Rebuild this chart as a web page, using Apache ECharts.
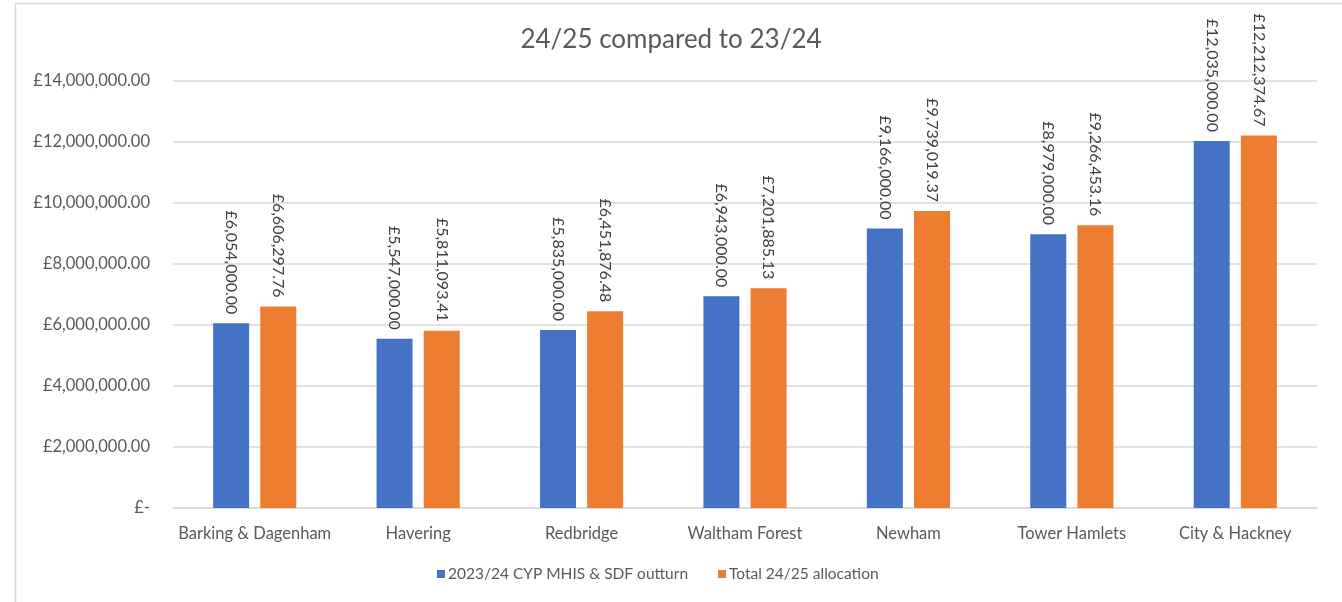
<!DOCTYPE html>
<html>
<head>
<meta charset="utf-8">
<style>
  html, body { margin: 0; padding: 0; background: #fff; }
  #chart { width: 1342px; height: 602px; }
</style>
<script src="https://cdn.jsdelivr.net/npm/echarts@6/dist/echarts.min.js"></script>
</head>
<body>
<div id="chart"></div>
<script>
// Boroughs along the x axis
const boroughs = ['Barking & Dagenham', 'Havering', 'Redbridge', 'Waltham Forest', 'Newham', 'Tower Hamlets', 'City & Hackney'];

// 2023/24 outturn and 24/25 allocation, in pounds
const outturn2324 = [6054000.00, 5547000.00, 5835000.00, 6943000.00, 9166000.00, 8979000.00, 12035000.00];
const allocation2425 = [6606297.76, 5811093.41, 6451876.48, 7201885.13, 9739019.37, 9266453.16, 12212374.67];

// Value axis ticks
const yTicks = [0, 2000000, 4000000, 6000000, 8000000, 10000000, 12000000, 14000000];
const yTickLabels = ['£-', '£2,000,000.00', '£4,000,000.00', '£6,000,000.00', '£8,000,000.00', '£10,000,000.00', '£12,000,000.00', '£14,000,000.00'];

const seriesNames = ['2023/24 CYP MHIS & SDF outturn', 'Total 24/25 allocation'];

const FONT = 'Lato, "Open Sans", sans-serif';
const TEXT = '#595959';

function money(v) {
  return '£' + v.toLocaleString('en-GB', { minimumFractionDigits: 2, maximumFractionDigits: 2 });
}

const labelStyle = {
  show: true,
  position: 'top',
  rotate: -90,
  align: 'right',
  verticalAlign: 'middle',
  distance: 9,
  color: '#404040',
  fontFamily: FONT,
  fontSize: 16,
  formatter: p => money(p.value)
};

const chart = echarts.init(document.getElementById('chart'), null, { renderer: 'canvas' });
chart.setOption({
  animation: false,
  backgroundColor: '#fff',
  title: {
    text: '24/25 compared to 23/24',
    left: 'center',
    top: 22,
    textStyle: { color: TEXT, fontFamily: FONT, fontSize: 26, fontWeight: 'normal' }
  },
  graphic: [{
    type: 'rect',
    shape: { x: 15.5, y: 3.5, width: 1400, height: 700 },
    style: { fill: 'none', stroke: '#d9d9d9', lineWidth: 1.5 },
    silent: true
  }],
  legend: {
    data: seriesNames,
    bottom: 15,
    left: 432,
    itemWidth: 8,
    itemHeight: 8,
    itemGap: 30,
    icon: 'rect',
    textStyle: { color: TEXT, fontFamily: FONT, fontSize: 15.5, padding: [0, 0, 0, -2] }
  },
  grid: { left: 173, right: 25, top: 81, bottom: 94, containLabel: false },
  xAxis: {
    type: 'category',
    data: boroughs,
    axisLine: { lineStyle: { color: '#d9d9d9', width: 1.5 } },
    axisTick: { show: false },
    axisLabel: { interval: 0, color: TEXT, fontFamily: FONT, fontSize: 16.5, margin: 17 }
  },
  yAxis: {
    type: 'value',
    min: 0,
    max: 14000000,
    interval: 2000000,
    axisLine: { show: false },
    axisTick: { show: false },
    splitLine: { lineStyle: { color: '#d9d9d9', width: 1.5 } },
    axisLabel: {
      color: TEXT,
      fontFamily: FONT,
      fontSize: 16.5,
      margin: 23,
      formatter: v => {
        const i = yTicks.indexOf(v);
        return i >= 0 ? yTickLabels[i] : '';
      }
    }
  },
  series: [
    {
      name: seriesNames[0],
      type: 'bar',
      data: outturn2324,
      barWidth: 36,
      barGap: '31%',
      itemStyle: { color: '#4472C4' },
      label: labelStyle
    },
    {
      name: seriesNames[1],
      type: 'bar',
      data: allocation2425,
      barWidth: 36,
      barGap: '31%',
      itemStyle: { color: '#ED7D31' },
      label: labelStyle
    }
  ]
});
</script>
</body>
</html>
